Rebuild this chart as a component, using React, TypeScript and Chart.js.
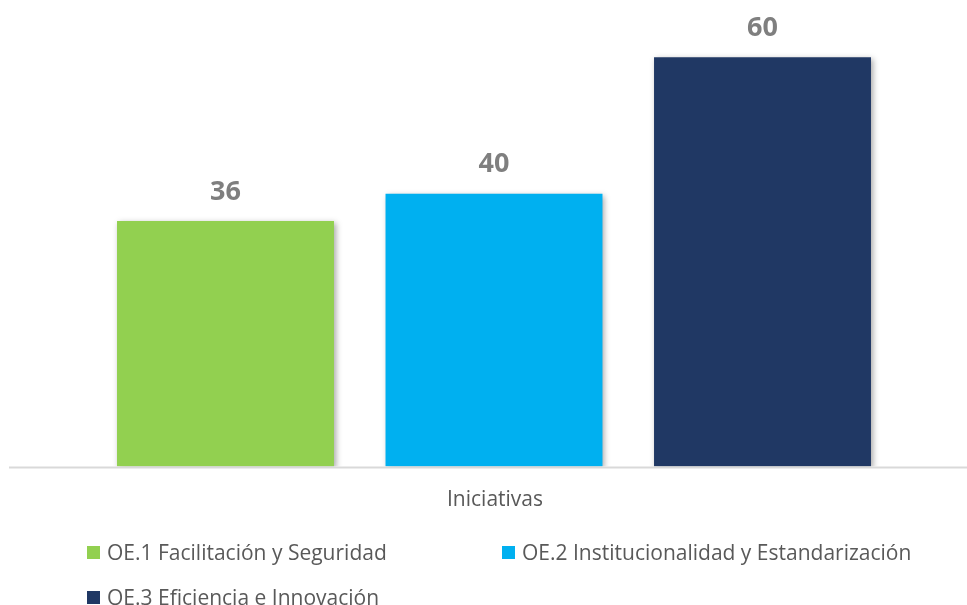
import React, { useEffect, useRef } from "react";
import { Chart, registerables } from "chart.js";

Chart.register(...registerables);

const categories = ["Iniciativas"];
const seriesNames = [
  "OE.1 Facilitación y Seguridad",
  "OE.2 Institucionalidad y Estandarización",
  "OE.3 Eficiencia e Innovación",
];
const seriesValues = [[36], [40], [60]];
const seriesColors = ["#92D050", "#00B0F0", "#203864"];
const axisTitle = "Iniciativas";

const FONT = "'Open Sans', 'Noto Sans', sans-serif";

const decorPlugin = {
  id: "decor",
  beforeDatasetDraw(chart: any) {
    const ctx = chart.ctx;
    ctx.save();
    ctx.shadowColor = "rgba(0,0,0,0.35)";
    ctx.shadowBlur = 6;
    ctx.shadowOffsetX = 2;
    ctx.shadowOffsetY = 2;
  },
  afterDatasetDraw(chart: any) {
    chart.ctx.restore();
  },
  afterDraw(chart: any) {
    const ctx = chart.ctx;
    const y0 = chart.scales.y.getPixelForValue(0);
    // baseline axis
    ctx.save();
    ctx.strokeStyle = "#D9D9D9";
    ctx.lineWidth = 2;
    ctx.beginPath();
    ctx.moveTo(9, y0 + 1);
    ctx.lineTo(chart.width, y0 + 1);
    ctx.stroke();

    // value labels
    ctx.fillStyle = "#7F7F7F";
    ctx.font = `bold 27px ${FONT}`;
    ctx.textAlign = "center";
    ctx.textBaseline = "middle";
    chart.data.datasets.forEach((ds: any, i: number) => {
      const meta = chart.getDatasetMeta(i);
      meta.data.forEach((bar: any, j: number) => {
        ctx.fillText(String(ds.data[j]), bar.x, bar.y - 29);
      });
    });

    // axis title
    ctx.fillStyle = "#595959";
    ctx.font = `21px ${FONT}`;
    const area = chart.chartArea;
    const cx = (area.left + area.right) / 2;
    ctx.fillText(axisTitle, cx + 1, y0 + 34);

    // legend
    const pos = [
      { x: 87, y: 552.5 },
      { x: 502, y: 552.5 },
      { x: 87, y: 597.5 },
    ];
    ctx.textAlign = "left";
    chart.data.datasets.forEach((ds: any, i: number) => {
      const p = pos[i];
      ctx.fillStyle = ds.backgroundColor;
      ctx.fillRect(p.x, p.y - 6.5, 13, 13);
      ctx.fillStyle = "#595959";
      ctx.fillText(ds.label, p.x + 20, p.y + 1.5);
    });
    ctx.restore();
  },
};

export default function App() {
  const ref = useRef<HTMLCanvasElement>(null);
  useEffect(() => {
    document.body.style.margin = "0";
    const chart = new Chart(ref.current!, {
      type: "bar",
      data: {
        labels: categories,
        datasets: seriesNames.map((name, i) => ({
          label: name,
          data: seriesValues[i],
          backgroundColor: seriesColors[i],
          borderWidth: 0,
        })),
      },
      options: {
        animation: false,
        responsive: false,
        maintainAspectRatio: false,
        categoryPercentage: 0.8515,
        barPercentage: 0.808,
        layout: { padding: { left: 21, right: 0, top: 4, bottom: 138.5 } },
        plugins: {
          legend: { display: false },
          tooltip: { enabled: false },
        },
        scales: {
          x: { display: false },
          y: { display: false, min: 0, max: 67.8 },
        },
      } as any,
      plugins: [decorPlugin],
    });
    return () => chart.destroy();
  }, []);
  return (
    <div style={{ width: 967, height: 605 }}>
      <canvas ref={ref} width={967} height={605} />
    </div>
  );
}
